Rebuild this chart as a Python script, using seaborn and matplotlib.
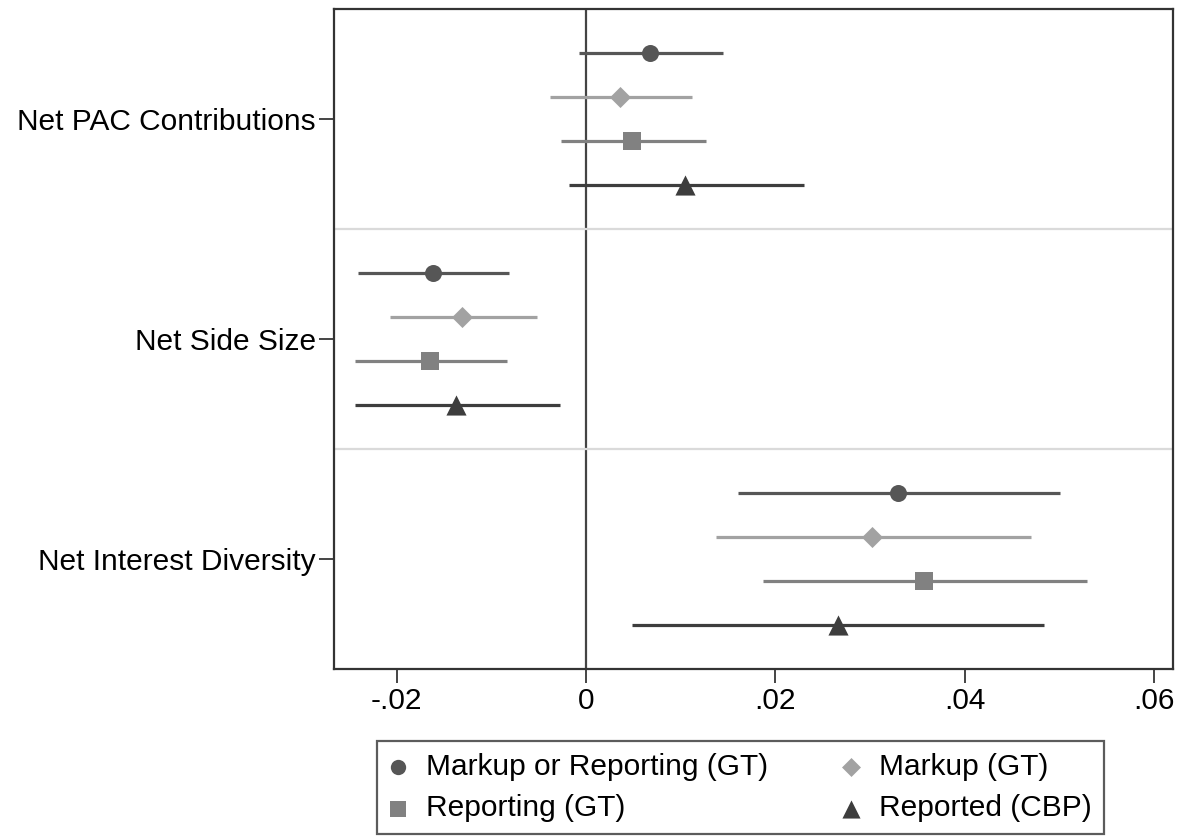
import matplotlib
matplotlib.use("Agg")
import matplotlib.pyplot as plt
import seaborn as sns
import pandas as pd

# Outcomes shown on the y axis (top to bottom)
categories = ["Net PAC Contributions", "Net Side Size", "Net Interest Diversity"]

# Series (one marker per outcome) and their legend labels
series = ["Markup or Reporting (GT)", "Markup (GT)", "Reporting (GT)", "Reported (CBP)"]

# Point estimates and confidence bounds, one value per outcome
markup_or_reporting_est = [0.0067, -0.0162, 0.0330]
markup_or_reporting_lo = [-0.0008, -0.0241, 0.0161]
markup_or_reporting_hi = [0.0145, -0.0081, 0.0501]

markup_est = [0.0036, -0.0131, 0.0302]
markup_lo = [-0.0038, -0.0207, 0.0137]
markup_hi = [0.0112, -0.0052, 0.0470]

reporting_est = [0.0049, -0.0165, 0.0357]
reporting_lo = [-0.0026, -0.0244, 0.0187]
reporting_hi = [0.0127, -0.0084, 0.0529]

reported_cbp_est = [0.0105, -0.0137, 0.0266]
reported_cbp_lo = [-0.0018, -0.0244, 0.0049]
reported_cbp_hi = [0.0230, -0.0028, 0.0484]

x_ticks = [-0.02, 0.0, 0.02, 0.04, 0.06]
x_tick_labels = ["-.02", "0", ".02", ".04", ".06"]

estimates = [markup_or_reporting_est, markup_est, reporting_est, reported_cbp_est]
lowers = [markup_or_reporting_lo, markup_lo, reporting_lo, reported_cbp_lo]
uppers = [markup_or_reporting_hi, markup_hi, reporting_hi, reported_cbp_hi]

# Styling per series
colors = ["#565656", "#a2a2a2", "#818181", "#3d3d3d"]
markers = ["o", "D", "s", "^"]
sizes = [150, 115, 165, 210]

# Long-format table: each outcome gets a block of rows with a blank row between blocks
block = len(series) + 1
rows = []
for ci, cat in enumerate(categories):
    for si, ser in enumerate(series):
        rows.append({
            "category": cat,
            "series": ser,
            "est": estimates[si][ci],
            "lo": lowers[si][ci],
            "hi": uppers[si][ci],
            "pos": ci * block + si,
        })
df = pd.DataFrame(rows)

sns.set_style("white")
plt.rcParams["font.family"] = ["Liberation Sans", "DejaVu Sans"]
plt.rcParams["text.color"] = "black"
plt.rcParams["xtick.color"] = "black"
plt.rcParams["ytick.color"] = "black"

fig = plt.figure(figsize=(11.82, 8.4), dpi=100)
ax = fig.add_axes([334 / 1182, 1 - 669 / 840, (1173 - 334) / 1182, (669 - 9) / 840])

# Reference line at zero and separators between outcome blocks
ax.axvline(0, color="#444444", lw=1.6, zorder=1)
for ci in range(1, len(categories)):
    ax.axhline(ci * block - 1, color="#dadada", lw=1.6, zorder=1)

for si, ser in enumerate(series):
    sub = df[df["series"] == ser]
    ax.hlines(sub["pos"], sub["lo"], sub["hi"], color=colors[si], lw=2.3, zorder=2)
    sns.scatterplot(data=sub, x="est", y="pos", marker=markers[si], color=colors[si],
                    s=sizes[si], linewidth=0, zorder=3, ax=ax, label=ser, legend=False)

n_slots = len(categories) * block - 1
ax.set_ylim(n_slots, -1)
ax.set_xlim(-0.02664, 0.06202)

ax.set_xticks(x_ticks)
ax.set_xticklabels(x_tick_labels)
ax.set_yticks([ci * block + (len(series) - 1) / 2 for ci in range(len(categories))])
ax.set_yticklabels(categories)
ax.set_xlabel("")
ax.set_ylabel("")

ax.tick_params(axis="x", which="major", length=10, width=1.4, color="#444444",
               pad=3, labelsize=21.5, direction="out", bottom=True, labelcolor="black")
ax.tick_params(axis="y", which="major", length=11, width=1.4, color="#444444",
               pad=2, labelsize=21.5, direction="out", left=True, labelcolor="black")

for sp in ax.spines.values():
    sp.set_visible(True)
    sp.set_color("#333333")
    sp.set_linewidth(1.6)

# Legend laid out row by row: first row holds series 1 and 2, second row 3 and 4
handles, labels = ax.get_legend_handles_labels()
order = [0, 2, 1, 3]
leg = ax.legend([handles[i] for i in order], [labels[i] for i in order],
                loc="upper left", bbox_to_anchor=(377 / 1182, 1 - 741 / 840),
                bbox_transform=fig.transFigure, ncol=2, fontsize=21.5, frameon=True,
                fancybox=False, edgecolor="#333333", borderpad=0.4, handlelength=0.6,
                handletextpad=0.65, columnspacing=2.45, labelspacing=0.45,
                markerscale=0.9, borderaxespad=0, scatterpoints=1)
leg.get_frame().set_linewidth(1.6)
leg.get_frame().set_facecolor("white")

fig.savefig("out.png", dpi=100)
